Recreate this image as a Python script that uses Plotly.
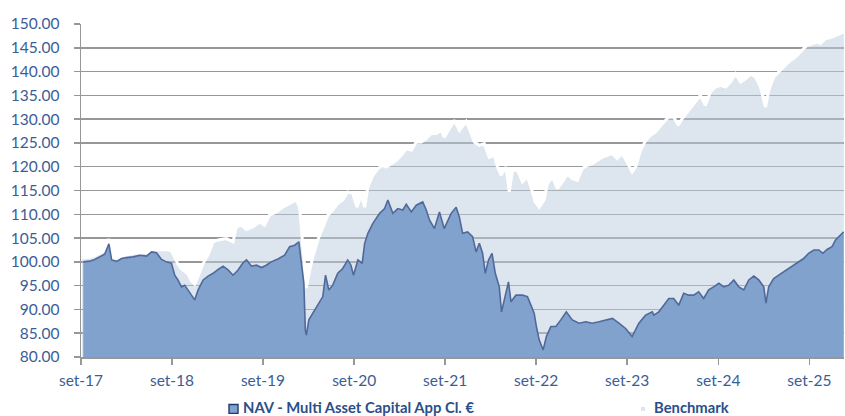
import plotly.graph_objects as go

nav_dates = [
"2017-09-10","2017-10-06","2017-10-26","2017-11-15","2017-12-05","2017-12-22","2018-01-02","2018-01-22","2018-02-11","2018-03-03",
"2018-03-29","2018-04-25","2018-05-22","2018-06-11","2018-07-01","2018-07-21","2018-08-10","2018-08-30","2018-09-12","2018-09-25",
"2018-10-09","2018-10-22","2018-11-04","2018-11-18","2018-12-01","2018-12-15","2019-01-04","2019-01-24","2019-02-13","2019-03-05",
"2019-03-25","2019-04-14","2019-05-04","2019-05-24","2019-06-13","2019-06-27","2019-07-17","2019-08-06","2019-08-26","2019-09-14",
"2019-10-04","2019-10-31","2019-11-27","2019-12-17","2020-01-06","2020-01-23","2020-02-01","2020-02-12","2020-02-18","2020-02-22",
"2020-03-03","2020-03-19","2020-04-08","2020-04-28","2020-05-09","2020-05-22","2020-06-07","2020-06-27","2020-07-17","2020-08-06",
"2020-08-19","2020-08-29","2020-09-16","2020-10-03","2020-10-13","2020-10-26","2020-11-15","2020-12-12","2021-01-01","2021-01-14",
"2021-02-03","2021-02-23","2021-03-15","2021-03-29","2021-04-18","2021-05-08","2021-06-03","2021-06-17","2021-06-30","2021-07-20",
"2021-08-09","2021-08-28","2021-09-25","2021-10-15","2021-10-28","2021-11-10","2021-11-30","2021-12-20","2022-01-03","2022-01-16",
"2022-01-29","2022-02-09","2022-02-22","2022-03-08","2022-03-21","2022-04-06","2022-04-15","2022-04-29","2022-05-13","2022-05-23",
"2022-06-12","2022-07-08","2022-07-28","2022-08-11","2022-08-24","2022-09-02","2022-09-13","2022-09-29","2022-10-12","2022-10-30",
"2022-11-19","2022-12-09","2022-12-31","2023-01-24","2023-02-20","2023-03-19","2023-04-14","2023-05-11","2023-06-07","2023-07-04",
"2023-07-30","2023-08-26","2023-09-21","2023-10-18","2023-11-14","2023-12-11","2023-12-17","2024-01-06","2024-01-26","2024-02-15",
"2024-03-06","2024-03-26","2024-04-15","2024-05-05","2024-05-25","2024-06-14","2024-07-04","2024-07-24","2024-08-13","2024-09-03",
"2024-09-23","2024-10-13","2024-11-02","2024-11-22","2024-12-12","2025-01-01","2025-01-21","2025-02-10","2025-03-02","2025-03-11",
"2025-03-22","2025-04-11","2025-05-01","2025-05-21","2025-06-10","2025-06-30","2025-07-20","2025-08-09","2025-08-29","2025-09-19",
"2025-10-09","2025-10-25","2025-11-11","2025-12-01","2025-12-15","2026-01-04","2026-01-17",
]
nav_values = [
100.0,100.15,100.5,101.05,101.6,103.8,100.4,100.1,100.7,100.9,
101.05,101.4,101.2,102.1,101.9,100.5,100.0,99.7,97.2,96.2,
94.75,95.1,94.1,93.0,92.0,94.1,96.2,97.0,97.6,98.4,
99.1,98.3,97.2,98.3,99.8,100.4,99.1,99.3,98.8,99.3,
100.0,100.6,101.4,103.2,103.5,104.2,99.7,95.5,85.7,84.6,
87.8,89.2,90.9,92.7,97.2,94.1,95.1,97.6,98.6,100.4,
99.3,97.2,100.4,99.7,103.9,106.0,108.1,110.2,111.2,113.0,
110.2,111.2,110.9,112.1,110.5,111.9,112.6,110.9,108.8,107.0,
110.5,107.0,110.2,111.5,109.4,106.0,106.3,105.3,102.1,103.9,
101.8,97.6,100.4,101.8,97.6,94.75,89.5,92.7,95.8,91.6,
93.0,93.0,92.7,90.9,89.2,86.4,83.6,81.5,84.3,86.4,
86.4,87.8,89.5,87.8,87.1,87.4,87.1,87.4,87.8,88.1,
87.1,86.0,84.3,87.1,88.8,89.5,88.8,89.5,90.9,92.3,
92.3,90.9,93.4,93.0,93.0,93.7,92.3,94.1,94.75,95.5,
94.75,95.1,96.2,94.75,94.1,96.2,97.0,96.2,94.75,91.3,
94.75,96.5,97.2,97.9,98.6,99.3,100.0,100.7,101.8,102.5,
102.5,101.8,102.6,103.2,104.6,105.6,106.3,
]

bench_dates = [
"2017-09-05","2017-10-06","2017-10-26","2017-11-15","2017-12-05","2017-12-22","2018-01-02","2018-01-22","2018-02-11","2018-03-03",
"2018-03-29","2018-04-25","2018-05-22","2018-06-11","2018-07-01","2018-07-21","2018-08-10","2018-08-30","2018-09-12","2018-09-25",
"2018-10-09","2018-10-22","2018-11-04","2018-11-18","2018-12-01","2018-12-15","2019-01-04","2019-01-24","2019-02-13","2019-03-05",
"2019-04-07","2019-05-04","2019-05-17","2019-06-06","2019-06-26","2019-07-23","2019-08-19","2019-09-07","2019-09-27","2019-10-24",
"2019-11-20","2019-12-17","2020-01-13","2020-01-26","2020-02-08","2020-02-22","2020-03-07","2020-03-19","2020-04-08","2020-04-28",
"2020-05-18","2020-06-07","2020-06-27","2020-07-17","2020-08-06","2020-08-26","2020-09-12","2020-09-29","2020-10-13","2020-10-26",
"2020-11-15","2020-12-05","2020-12-25","2021-01-08","2021-01-28","2021-02-17","2021-03-09","2021-03-29","2021-04-18","2021-05-08",
"2021-05-28","2021-06-17","2021-07-07","2021-07-27","2021-08-16","2021-08-28","2021-09-18","2021-10-08","2021-10-28","2021-11-24",
"2021-12-14","2021-12-27","2022-01-16","2022-02-05","2022-02-25","2022-03-17","2022-03-30","2022-04-13","2022-05-03","2022-05-16",
"2022-05-29","2022-06-18","2022-07-08","2022-07-28","2022-08-11","2022-08-28","2022-09-13","2022-10-03","2022-10-16","2022-11-05",
"2022-11-25","2022-12-15","2023-01-04","2023-01-24","2023-02-13","2023-03-05","2023-03-25","2023-04-14","2023-05-04","2023-05-24",
"2023-06-13","2023-07-03","2023-07-23","2023-08-12","2023-09-01","2023-09-21","2023-10-05","2023-10-25","2023-11-14","2023-12-04",
"2023-12-24","2024-01-20","2024-02-15","2024-03-06","2024-03-24","2024-04-09","2024-05-05","2024-06-01","2024-06-21","2024-07-11",
"2024-07-31","2024-08-20","2024-09-10","2024-09-30","2024-10-20","2024-11-09","2024-11-29","2024-12-19","2025-01-08","2025-01-28",
"2025-02-17","2025-03-09","2025-03-22","2025-04-11","2025-05-01","2025-05-21","2025-06-10","2025-07-07","2025-08-02","2025-08-22",
"2025-09-12","2025-10-02","2025-10-15","2025-11-04","2025-12-01","2025-12-28","2026-01-17",
]
bench_values = [
100.8,101.0,101.3,101.8,102.4,104.8,100.9,100.7,101.3,101.5,
101.8,102.0,101.9,102.7,102.5,102.5,102.6,102.3,100.8,99.5,
98.5,98.0,97.5,96.0,95.3,97.0,99.7,101.5,104.2,104.6,
104.9,104.2,107.35,107.7,106.8,107.35,108.4,107.7,109.8,110.5,
111.5,112.3,113.0,111.5,103.2,94.5,98.3,101.05,104.6,107.35,
109.8,110.9,112.3,113.0,114.7,114.4,111.5,114.0,111.5,115.75,
118.2,119.6,120.3,119.95,120.7,121.35,122.4,123.8,123.45,125.2,
125.2,125.9,127.0,127.0,127.65,126.2,128.0,129.75,127.65,129.5,
127.0,125.2,124.5,124.85,122.0,122.4,119.95,118.2,119.95,114.7,
119.25,119.25,116.8,117.85,115.75,112.6,111.5,113.0,116.45,117.85,
115.4,116.8,118.55,117.5,117.15,119.6,120.3,120.65,121.35,122.0,
122.4,122.8,121.7,122.8,121.0,118.9,119.95,123.45,125.5,126.6,
127.3,129.05,130.45,130.45,128.7,130.1,131.85,133.6,135.0,132.9,
135.7,136.75,137.1,136.75,137.8,139.5,137.8,138.5,139.5,138.85,
136.75,132.5,136.05,138.85,139.9,140.95,142.0,143.05,144.45,145.5,
145.85,146.2,145.85,146.9,147.25,147.9,148.3,
]

tick_dates = ["2017-09-01","2018-09-01","2019-09-01","2020-09-01","2021-09-01",
              "2022-09-01","2023-09-01","2024-09-01","2025-09-01"]
tick_labels = ["set-17","set-18","set-19","set-20","set-21","set-22","set-23","set-24","set-25"]

nav_name = "NAV - Multi Asset Capital App Cl. €"
bench_name = "Benchmark"

FONT = "Lato"
TICK_COLOR = "#3a5d96"
LEG_COLOR = "#2b4f88"
GRID = "#979797"

fig = go.Figure()
fig.add_trace(go.Scatter(
    x=bench_dates, y=bench_values, name=bench_name, mode="lines",
    line=dict(color="white", width=3), fill="tozeroy",
    fillcolor="rgba(188,204,224,0.5)", showlegend=False, hoverinfo="skip"))
fig.add_trace(go.Scatter(
    x=nav_dates, y=nav_values, name=nav_name, mode="lines",
    line=dict(color="#50699a", width=1.6), fill="tozeroy",
    fillcolor="#80a2cc", showlegend=False, hoverinfo="skip"))

L, R, T, B = 81, 1, 23.5, 59
W, H = 845, 416
pw, ph = W - L - R, H - T - B

def px(x):
    return (x - L) / pw

def py(y):
    return (H - B - y) / ph

shapes = [
    dict(type="rect", xref="paper", yref="paper",
         x0=px(229), x1=px(238), y0=py(413.5), y1=py(404.5),
         fillcolor="#80a2cc", line=dict(color="#1e3a6e", width=1.4)),
    dict(type="rect", xref="paper", yref="paper",
         x0=px(641), x1=px(645), y0=py(411), y1=py(407),
         fillcolor="#dde5ef", line=dict(width=0)),
]
annotations = [
    dict(text="<b>" + nav_name + "</b>", xref="paper", yref="paper",
         x=px(242), y=py(407.5), xanchor="left", yanchor="middle", showarrow=False,
         borderpad=0, font=dict(family=FONT, size=14.8, color=LEG_COLOR)),
    dict(text="<b>" + bench_name + "</b>", xref="paper", yref="paper",
         x=px(653), y=py(407.5), xanchor="left", yanchor="middle", showarrow=False,
         borderpad=0, font=dict(family=FONT, size=14.8, color=LEG_COLOR)),
]

fig.update_layout(
    width=W, height=H,
    margin=dict(l=L, r=R, t=T, b=B, pad=0, autoexpand=False),
    paper_bgcolor="white", plot_bgcolor="white",
    font=dict(family=FONT, size=15.5, color=TICK_COLOR),
    showlegend=False,
    shapes=shapes, annotations=annotations,
    xaxis=dict(
        type="date", range=["2017-09-01", "2026-01-18"],
        tickvals=tick_dates, ticktext=tick_labels,
        showgrid=False, showline=True, linecolor=GRID, linewidth=1.5,
        ticks="outside", ticklen=6, tickcolor=GRID, tickwidth=1.5,
        ticklabelstandoff=3, zeroline=False,
        tickfont=dict(family=FONT, size=15.5, color=TICK_COLOR),
    ),
    yaxis=dict(
        range=[80, 150], dtick=5, tick0=80, tickformat=".2f",
        showgrid=True, gridcolor=GRID, gridwidth=1.5,
        showline=True, linecolor=GRID, linewidth=1.5,
        ticks="outside", ticklen=6, tickcolor=GRID, tickwidth=1.5,
        ticklabelstandoff=11, zeroline=False,
        tickfont=dict(family=FONT, size=15.5, color=TICK_COLOR),
    ),
)

fig.write_html(
    "out.html",
    config={"displayModeBar": False, "staticPlot": True},
    post_script="document.body.style.margin='0';document.body.style.padding='0';",
)
